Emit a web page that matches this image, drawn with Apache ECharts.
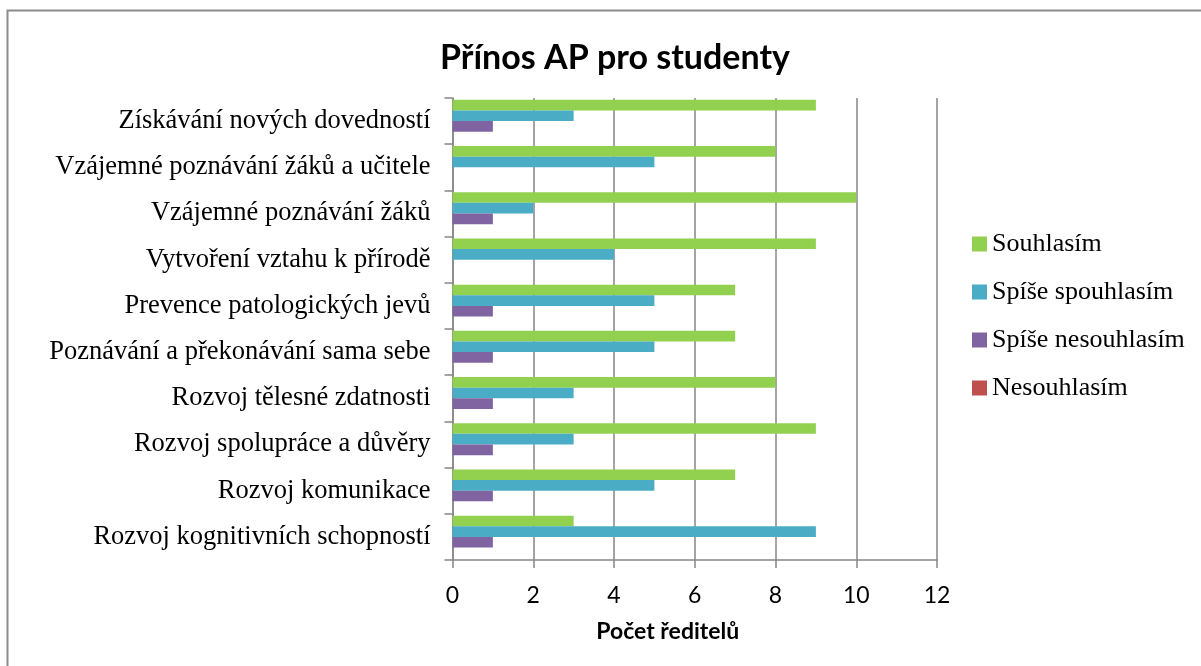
<!DOCTYPE html>
<html>
<head>
<meta charset="utf-8">
<script src="https://cdn.jsdelivr.net/npm/echarts@6/dist/echarts.min.js"></script>
<style>
  html, body { margin: 0; padding: 0; background: #fff; }
  #chart { width: 1201px; height: 666px; }
</style>
</head>
<body>
<div id="chart"></div>
<script>
// categories from bottom to top, as the value axis runs
const categories = [
    'Rozvoj kognitivních schopností',
    'Rozvoj komunikace',
    'Rozvoj spolupráce a důvěry',
    'Rozvoj tělesné zdatnosti',
    'Poznávání a překonávání sama sebe',
    'Prevence patologických jevů',
    'Vytvoření vztahu k přírodě',
    'Vzájemné poznávání žáků',
    'Vzájemné poznávání žáků a učitele',
    'Získávání nových dovedností'
];
const souhlasim = [3, 7, 9, 8, 7, 7, 9, 10, 8, 9];
const spise_souhlasim = [9, 5, 3, 3, 5, 5, 4, 2, 5, 3];
const spise_nesouhlasim = [1, 1, 1, 1, 1, 1, 0, 1, 0, 1];
const nesouhlasim = [0, 0, 0, 0, 0, 0, 0, 0, 0, 0];

const series_names = ['Souhlasím', 'Spíše spouhlasím', 'Spíše nesouhlasím', 'Nesouhlasím'];
const series_values = [souhlasim, spise_souhlasim, spise_nesouhlasim, nesouhlasim];
const colors = ['#92D050', '#4BACC6', '#8064A2', '#C0504D'];

const chart = echarts.init(document.getElementById('chart'));

const option = {
    animation: false,
    color: colors,
    title: {
        text: 'Přínos AP pro studenty',
        left: 610,
        textAlign: 'center',
        top: 36,
        textStyle: { fontFamily: 'Lato', fontWeight: 'bold', fontSize: 34, color: '#000' }
    },
    graphic: [
        {
            type: 'rect',
            shape: { x: 7.5, y: 10.5, width: 1300, height: 800 },
            style: { fill: 'none', stroke: '#8c8c8c', lineWidth: 2 },
            silent: true
        }
    ],
    legend: {
        orient: 'vertical',
        left: 967,
        top: 226,
        itemWidth: 15,
        itemHeight: 15,
        itemGap: 22,
        icon: 'rect',
        textStyle: { fontFamily: 'Liberation Serif', fontSize: 26, color: '#000' },
        data: series_names
    },
    grid: { left: 452.5, right: 264, top: 98, bottom: 106, containLabel: false },
    xAxis: {
        type: 'value',
        min: 0,
        max: 12,
        interval: 2,
        axisLine: { show: true, lineStyle: { color: '#868686', width: 1.5 } },
        axisTick: { show: true, length: 8, lineStyle: { color: '#868686', width: 1.5 } },
        splitLine: { show: true, lineStyle: { color: '#868686', width: 1.5 } },
        axisLabel: { margin: 24, fontFamily: 'Lato', fontSize: 23, color: '#000' },
        name: 'Počet ředitelů',
        nameLocation: 'middle',
        nameGap: 60,
        nameTextStyle: { fontFamily: 'Lato', fontWeight: 'bold', fontSize: 23, color: '#000', padding: [0, 54, 0, 0] }
    },
    yAxis: {
        type: 'category',
        data: categories,
        axisLine: { show: true, lineStyle: { color: '#868686', width: 1.5 } },
        axisTick: { show: true, length: 8, lineStyle: { color: '#868686', width: 1.5 } },
        splitLine: { show: false },
        axisLabel: { margin: 22, fontFamily: 'Liberation Serif', fontSize: 26.5, color: '#000' }
    },
    series: series_names.map((name, i) => ({
        name: name,
        type: 'bar',
        data: series_values[i],
        barGap: '0%',
        barCategoryGap: '8%'
    }))
};
chart.setOption(option);
</script>
</body>
</html>
